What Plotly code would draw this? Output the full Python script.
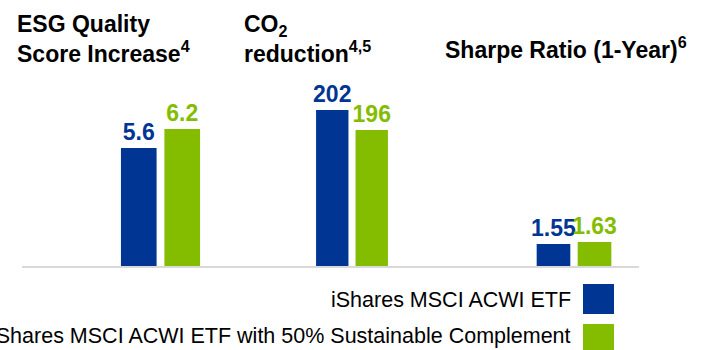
import plotly.graph_objects as go

# ---- data ----
metrics = ["ESG Quality Score Increase", "CO2 reduction", "Sharpe Ratio (1-Year)"]
titles = [
    "<b>ESG Quality<br>Score Increase<sup>4</sup></b>",
    "<b>CO<sub>2</sub><br>reduction<sup>4,5</sup></b>",
    "<b>Sharpe Ratio (1-Year)<sup>6</sup></b>",
]
series_names = [
    "iShares MSCI ACWI ETF",
    "iShares MSCI ACWI ETF with 50% Sustainable Complement",
]
acwi_values = [5.6, 202, 1.55]
sustainable_values = [6.2, 196, 1.63]
value_labels_acwi = ["5.6", "202", "1.55"]
value_labels_sust = ["6.2", "196", "1.63"]

# ---- style ----
BLUE = "#003594"
GREEN = "#84BD00"
FONT = "Arial, Liberation Sans, sans-serif"
W, H = 710, 350

def px_x(p):
    return p / W

def px_y(p):
    return 1 - p / H

# per-panel axis ranges (each metric on its own scale)
y_ranges = [[1.842, 7.115], [154.9, 205.0], [0.63, 7.31]]
x_domains_px = [[98.4, 222.6], [295.6, 408.4], [515.4, 632.6]]
y_domain = [px_y(267), px_y(100)]

fig = go.Figure()
for i in range(3):
    xa = "x" if i == 0 else f"x{i+1}"
    ya = "y" if i == 0 else f"y{i+1}"
    for vals, labels, name, color in [
        (acwi_values, value_labels_acwi, series_names[0], BLUE),
        (sustainable_values, value_labels_sust, series_names[1], GREEN),
    ]:
        fig.add_trace(go.Bar(
            x=[metrics[i]], y=[vals[i]], name=name,
            marker=dict(color=color, line=dict(width=0)),
            text=[labels[i]], textposition="outside",
            textfont=dict(family=FONT, size=23, color=color, weight="bold"),
            cliponaxis=False, showlegend=False,
            xaxis=xa, yaxis=ya, hoverinfo="skip",
        ))

layout = dict(
    width=W, height=H,
    margin=dict(l=0, r=0, t=0, b=0),
    paper_bgcolor="white", plot_bgcolor="white",
    barmode="group", bargap=0.3, bargroupgap=0.18,
    showlegend=False,
)
for i in range(3):
    sx = "" if i == 0 else str(i + 1)
    d = x_domains_px[i]
    layout[f"xaxis{sx}"] = dict(domain=[px_x(d[0]), px_x(d[1])], visible=False,
                                anchor=f"y{sx}", fixedrange=True)
    layout[f"yaxis{sx}"] = dict(domain=y_domain, range=y_ranges[i], visible=False,
                                anchor=f"x{sx}", fixedrange=True)
fig.update_layout(**layout)
fig.update_traces(constraintext="none")

# baseline
fig.add_shape(type="line", xref="paper", yref="paper",
              x0=px_x(22), x1=px_x(639), y0=y_domain[0], y1=y_domain[0],
              line=dict(color="#D9D9D9", width=2), layer="above")

# panel titles
title_pos = [(15, 9), (242, 9), (443, 31)]
for t, (xp, yp) in zip(titles, title_pos):
    fig.add_annotation(text=t, xref="paper", yref="paper", x=px_x(xp), y=px_y(yp),
                       xanchor="left", yanchor="top", align="left", showarrow=False,
                       font=dict(family=FONT, size=23, color="black"))

# legend (text right-aligned, swatch to the right)
legend_rows = [(series_names[0], BLUE, 300, 284, 314),
               (series_names[1], GREEN, 336, 324, 355)]
for name, color, yc, y0, y1 in legend_rows:
    fig.add_annotation(text=name, xref="paper", yref="paper", x=px_x(573), y=px_y(yc),
                       xanchor="right", yanchor="middle", showarrow=False,
                       font=dict(family=FONT, size=21.5, color="black"))
    fig.add_shape(type="rect", xref="paper", yref="paper",
                  x0=px_x(583), x1=px_x(614), y0=px_y(y1), y1=px_y(y0),
                  fillcolor=color, line=dict(width=0))

fig.write_html("out.html")
